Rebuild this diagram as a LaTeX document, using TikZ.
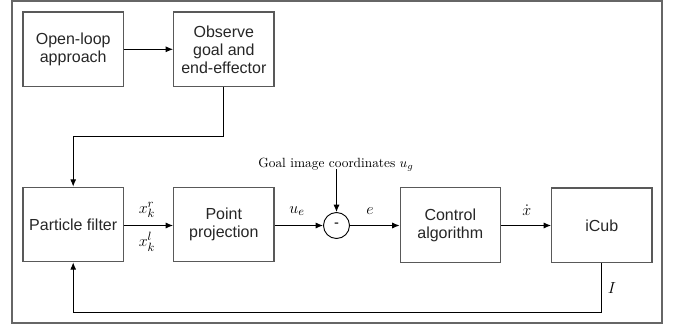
\documentclass[tikz,border=0pt]{standalone}
\usepackage{fontspec}
\setsansfont{Liberation Sans}
\usetikzlibrary{arrows.meta}
\begin{document}
\begin{tikzpicture}[x=0.75pt,y=-0.75pt,
  blk/.style={draw=black!65, line width=0.8pt, minimum width=75.3pt, minimum height=56pt,
    inner sep=0pt, align=center, text=black!85, font=\sffamily\fontsize{12}{13.5}\selectfont},
  sumnode/.style={draw=black, line width=0.7pt, circle, minimum size=19.5pt, inner sep=0pt,
    font=\sffamily\fontsize{11}{12}\selectfont},
  conn/.style={line width=0.7pt, -{Latex[length=5.5pt,width=4.5pt]}},
  lbl/.style={font=\fontsize{13}{15}\selectfont, inner sep=0pt}]
\useasboundingbox (0,0) rectangle (678,325);
\draw[draw=black!60, line width=1.1pt] (12,1) rectangle (662,323);
\node[blk] (ol) at (73.2,49.3) {Open-loop\\approach};
\node[blk] (obs) at (223.8,49.3) {Observe\\goal and\\end-effector};
\node[blk] (pf) at (73.2,224.5) {Particle filter};
\node[blk] (pp) at (223.8,224.5) {Point\\projection};
\node[sumnode] (sum) at (336.5,225.5) {-};
\node[blk] (ca) at (450.3,225.2) {Control\\algorithm};
\node[blk] (icub) at (601.8,225.3) {iCub};
\node[font=\fontsize{10}{12}\selectfont, inner sep=0pt] (goal) at (336,165) {Goal image coordinates $u_g$};
\coordinate (c1) at (223.8,136.7);
\coordinate (c2) at (73.2,136.7);
\coordinate (c3) at (601.8,312.7);
\coordinate (c4) at (73.2,312.7);
\draw[conn] (ol.east |- 0,49.3) -- (obs.west |- 0,49.3);
\draw[conn] (obs.south) -- (c1) -- (c2) -- (pf.north);
\draw[conn] (pf.east |- 0,225.5) -- (pp.west |- 0,225.5);
\draw[conn] (pp.east |- sum) -- (sum.west);
\draw[conn] (goal.south -| sum) ++(0,-3) -- (sum.north);
\draw[conn] (sum.east) -- (ca.west |- sum);
\draw[conn] (ca.east |- sum) -- (icub.west |- sum);
\draw[conn] (icub.south) -- (c3) -- (c4) -- (pf.south);
\node[lbl] (xr) at (147,210) {$x_k^r$};
\node[lbl] (xl) at (147,242) {$x_k^l$};
\node[lbl] (ue) at (297,211) {$u_e$};
\node[lbl] (e) at (370,211) {$e$};
\node[lbl] (xd) at (526.7,210) {$\dot{x}$};
\node[lbl] (I) at (612,288) {$I$};
\end{tikzpicture}
\end{document}
